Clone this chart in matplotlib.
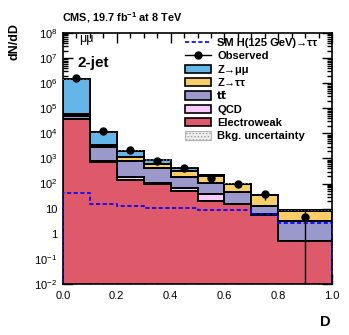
import numpy as np
import matplotlib
matplotlib.use("Agg")
import matplotlib.pyplot as plt
from matplotlib.patches import Patch
from matplotlib.lines import Line2D
from matplotlib.ticker import FixedLocator, MultipleLocator, LogLocator, NullFormatter

plt.rcParams['font.family'] = ['Liberation Sans', 'DejaVu Sans']
plt.rcParams['mathtext.fontset'] = 'custom'
plt.rcParams['mathtext.rm'] = 'Liberation Sans'
plt.rcParams['mathtext.bf'] = 'Liberation Sans:bold'
plt.rcParams['mathtext.it'] = 'Liberation Sans:italic'
plt.rcParams['hatch.linewidth'] = 0.6

# ---- data ----
bin_edges = [0.0, 0.1, 0.2, 0.3, 0.4, 0.5, 0.6, 0.7, 0.8, 1.0]
electroweak = [3.8e4, 700, 135, 93, 52, 20, 15, 5.8, 0.52]
qcd = [1000, 100, 40, 14, 15, 19, 0.5, 0.1, 0.01]
ttbar = [1.1e4, 2100, 605, 293, 118, 68, 31.5, 6.4, 2.57]
ztautau = [7000, 700, 420, 230, 125, 98, 51, 22.7, 5.2]
zmumu = [1.44e6, 7400, 750, 220, 115, 8, 2, 1, 0.2]
higgs = [42, 16, 13, 10.2, 10.8, 8.7, 9.0, 6.2, 2.8]
obs_x = [0.05, 0.15, 0.25, 0.35, 0.45, 0.55, 0.65, 0.75, 0.9]
observed = [1.55e6, 1.2e4, 2200, 800, 400, 160, 100, 40, 4.7]
obs_err_lo = [1.2e3, 350, 150, 90, 60, 40, 30, 18, 4.7]
obs_err_hi = [1.2e3, 350, 150, 90, 60, 40, 30, 12, 3.8]
bkg_rel_unc = 0.08

labels = ['SM H(125 GeV)→ττ', 'Observed', 'Z→μμ', 'Z→ττ', 'tt\u0304',
          'QCD', 'Electroweak', 'Bkg. uncertainty']
colors = {'zmumu': '#64B6E8', 'ztautau': '#F9CE68', 'ttbar': '#9B98CC',
          'qcd': '#FACAFF', 'ew': '#DE5A6A'}

fig = plt.figure(figsize=(3.49, 3.35), dpi=100)
ax = fig.add_axes([63/349, 1-284/335, (332-63)/349, (284-33)/335])

edges = np.array(bin_edges)
comps = [np.array(electroweak), np.array(qcd), np.array(ttbar), np.array(ztautau), np.array(zmumu)]
cols = [colors['ew'], colors['qcd'], colors['ttbar'], colors['ztautau'], colors['zmumu']]
cum = np.cumsum(comps, axis=0)
base = 1e-3
for i in range(len(comps)-1, -1, -1):
    ax.stairs(cum[i], edges, baseline=base, fill=True, facecolor=cols[i],
              edgecolor='black', linewidth=1.3, zorder=2+(len(comps)-i)*0.01)
    ax.stairs(cum[i], edges, baseline=base, fill=False, color='black',
              linewidth=1.3, zorder=2.1+(len(comps)-i)*0.01)

total = cum[-1]
ax.stairs(total*(1+bkg_rel_unc), edges, baseline=total*(1-bkg_rel_unc), fill=True,
          facecolor='none', edgecolor='#888888', hatch='.....', linewidth=0, zorder=3)

ax.stairs(np.array(higgs), edges, baseline=base, fill=False, color='#0000FF',
          linestyle=(0, (2.5, 1.5)), linewidth=1.2, zorder=3.5)

ax.errorbar(obs_x, observed, yerr=[obs_err_lo, obs_err_hi], fmt='o', color='black',
            markersize=5, elinewidth=1.0, capsize=0, zorder=5)

ax.set_yscale('log')
ax.set_ylim(1e-2, 1e8)
ax.set_xlim(0, 1)

ax.yaxis.set_major_locator(FixedLocator([10.0**k for k in range(-2, 9)]))
ylabels = []
for k in range(-2, 9):
    if k == 0:
        ylabels.append('1')
    elif k == 1:
        ylabels.append('10')
    else:
        ylabels.append(r'$\mathregular{10^{%d}}$' % k)
ax.set_yticklabels(ylabels)
ax.yaxis.set_minor_locator(LogLocator(base=10, subs=np.arange(2, 10), numticks=20))
ax.yaxis.set_minor_formatter(NullFormatter())
xt = [0.0, 0.2, 0.4, 0.6, 0.8, 1.0]
ax.xaxis.set_major_locator(FixedLocator(xt))
ax.set_xticklabels(['%.1f' % v for v in xt])
ax.xaxis.set_minor_locator(MultipleLocator(0.05))

ax.tick_params(which='both', direction='in', top=True, right=True, labelsize=8, width=1.0)
ax.tick_params(which='major', length=7)
ax.tick_params(which='minor', length=3.5)
ax.tick_params(axis='x', pad=5)
ax.tick_params(axis='y', pad=4)
for s in ax.spines.values():
    s.set_linewidth(1.2)

fig.text(15/349, 1-42/335, 'dN/dD', rotation=90, fontsize=9, fontweight='bold',
         ha='center', va='center')
fig.text(325/349, 1-322.5/335, 'D', fontsize=10.5, fontweight='bold', ha='center', va='center')
fig.text(62/349, 1-18/335, r'CMS, 19.7 fb$^{\mathbf{-1}}$ at 8 TeV', fontsize=7.8,
         fontweight='bold', ha='left', va='center')
fig.text(79/349, 1-39/335, 'μμ', fontsize=9, ha='left', va='center')
fig.text(78/349, 1-63.5/335, '2-jet', fontsize=11, fontweight='bold', ha='left', va='center')

handles = [
    Line2D([], [], color='#0000FF', linestyle=(0, (2.5, 1.5)), linewidth=1.2),
    Line2D([], [], color='black', marker='o', markersize=5, linewidth=1.0),
    Patch(facecolor=colors['zmumu'], edgecolor='black', linewidth=1.2),
    Patch(facecolor=colors['ztautau'], edgecolor='black', linewidth=1.2),
    Patch(facecolor=colors['ttbar'], edgecolor='black', linewidth=1.2),
    Patch(facecolor=colors['qcd'], edgecolor='black', linewidth=1.2),
    Patch(facecolor=colors['ew'], edgecolor='black', linewidth=1.2),
    Patch(facecolor='#eeeeee', edgecolor='#999999', hatch='.....', linewidth=0.5),
]
leg = ax.legend(handles, labels, loc='upper left', bbox_to_anchor=((185-63)/269, 1-5/251),
                frameon=False, prop={'weight': 'bold', 'size': 8}, handlelength=2.3,
                handleheight=0.75, handletextpad=0.6, labelspacing=0.3, borderaxespad=0,
                borderpad=0)
leg.get_texts()[4].set_family(['DejaVu Sans'])
leg.get_texts()[4].set_fontsize(7.5)

fig.savefig('out.png', dpi=100)
